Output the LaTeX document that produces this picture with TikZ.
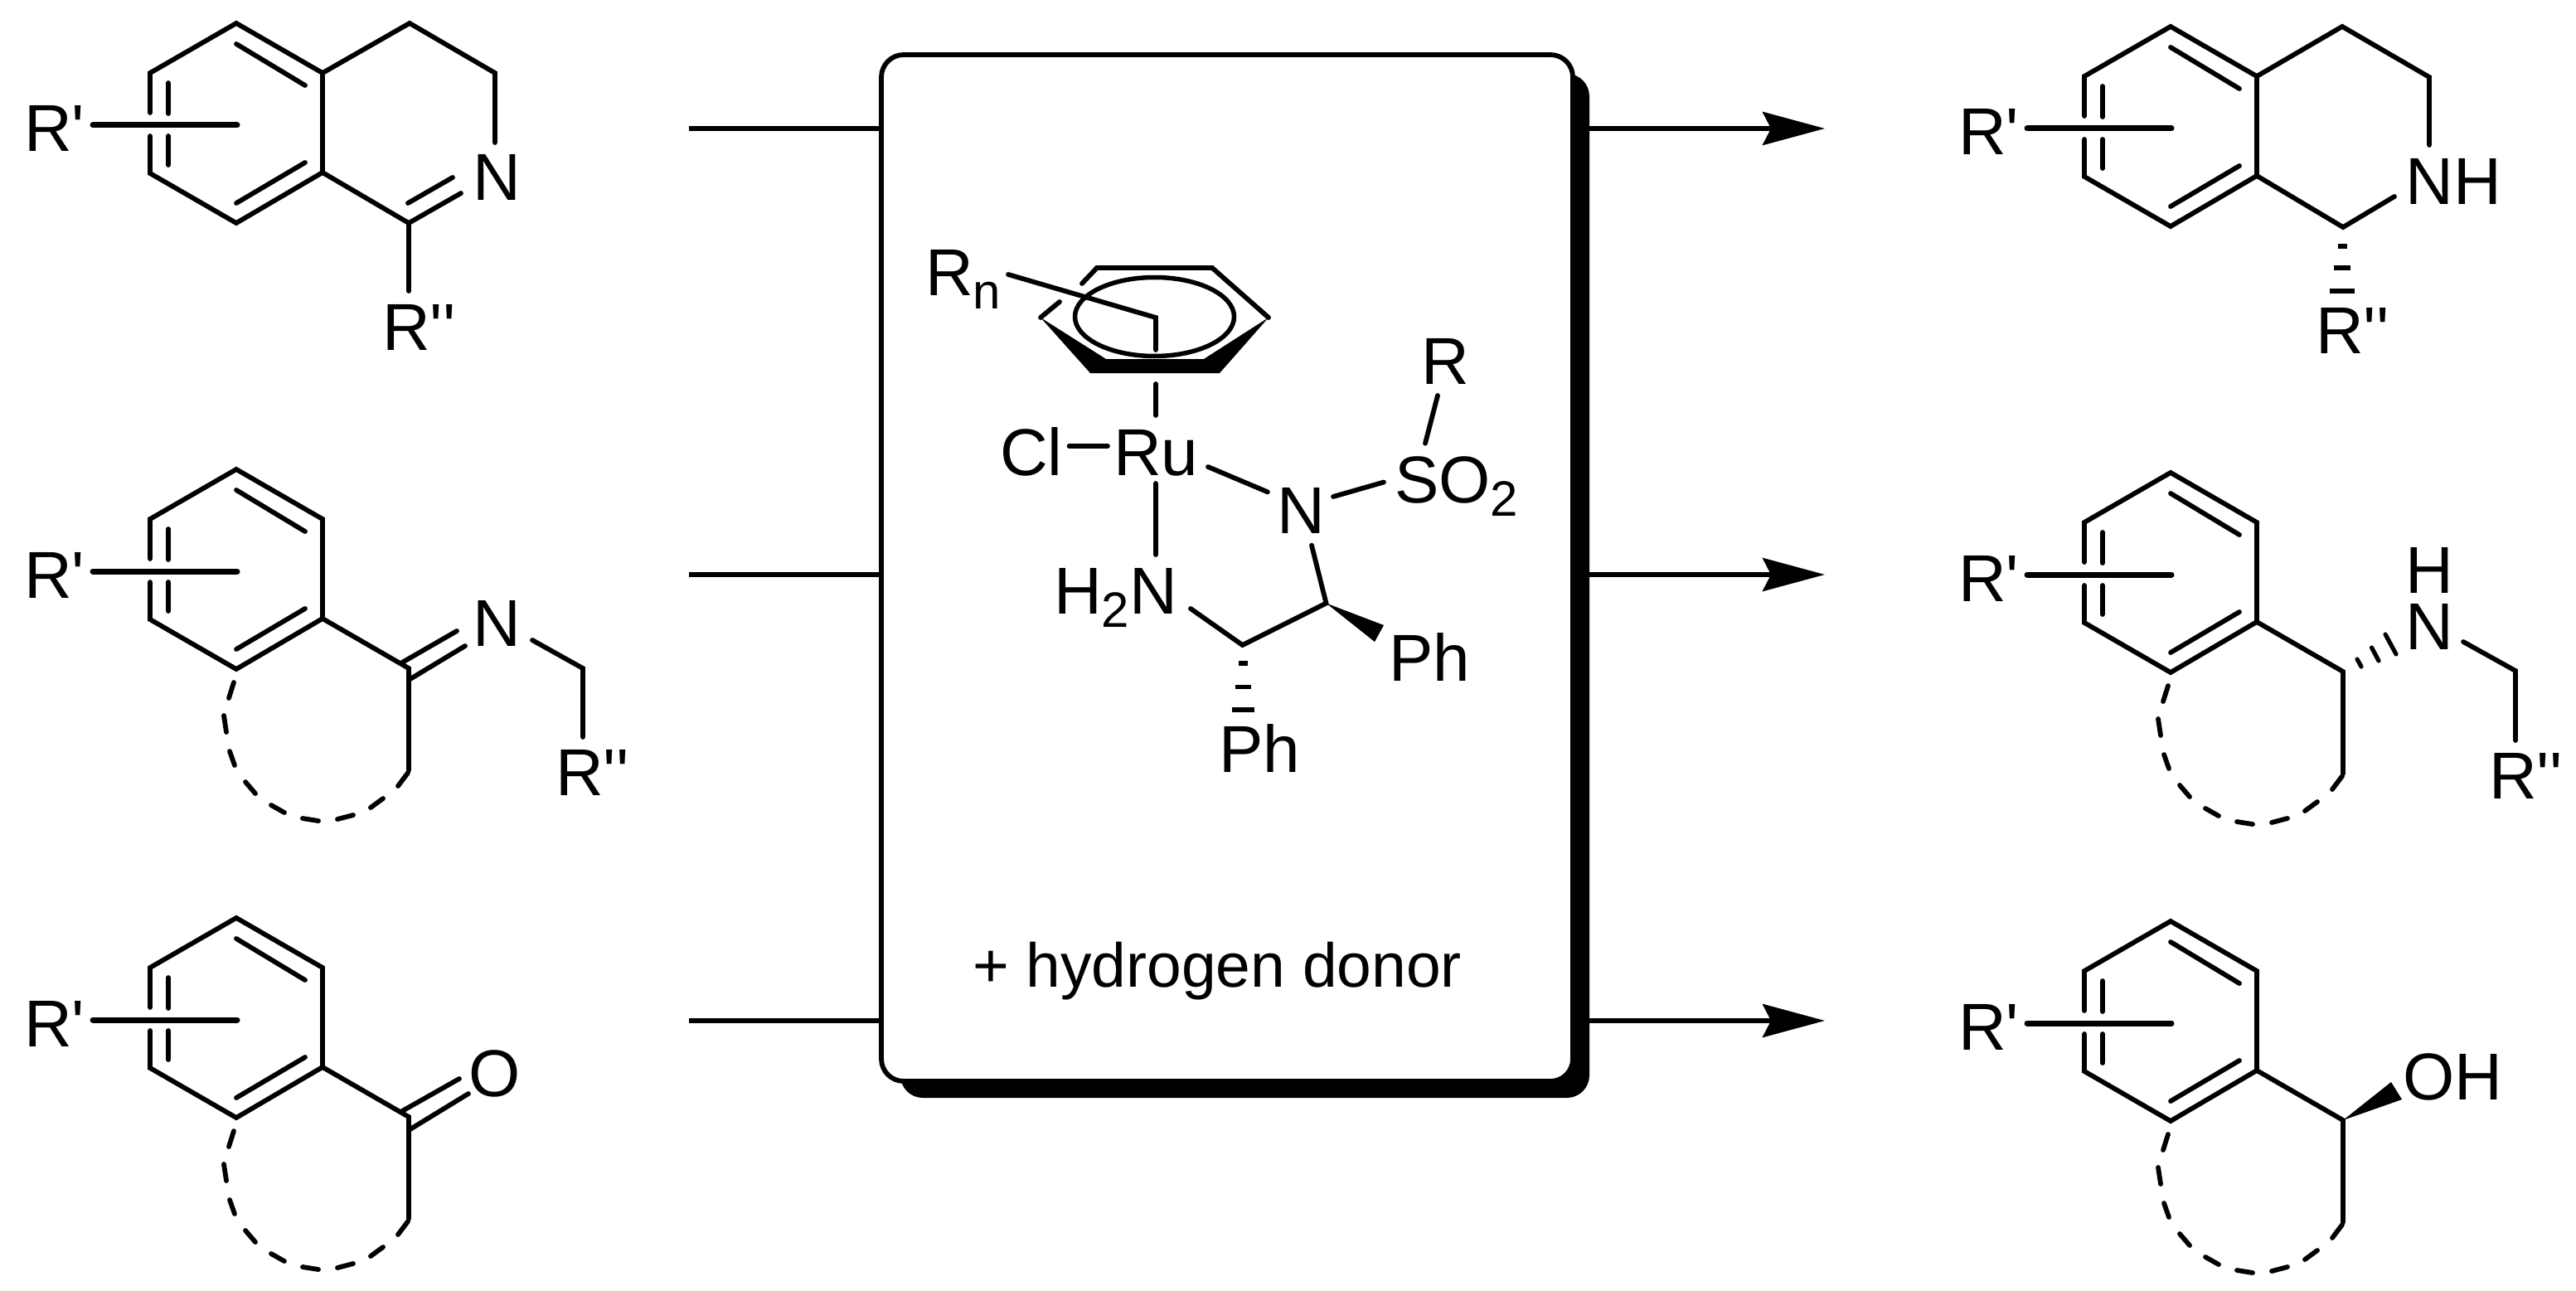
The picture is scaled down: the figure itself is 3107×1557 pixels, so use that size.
\documentclass[tikz,border=0pt]{standalone}
\usepackage{fontspec}
\usetikzlibrary{arrows.meta}
\newfontfamily\chemf{Liberation Sans}
\tikzset{
  bond/.style={line width=5.8pt,line cap=round,line join=miter,miter limit=10},
  thickbar/.style={line width=7pt,line cap=round},
  hashbar/.style={line width=5.3pt,line cap=butt},
  hashslant/.style={line width=5.2pt,line cap=round},
  atom/.style={inner sep=0pt,outer sep=0pt,anchor=base west,font=\chemf\fontsize{80}{96}\selectfont},
  note/.style={inner sep=0pt,outer sep=0pt,anchor=base west,font=\chemf\fontsize{75}{90}\selectfont},
  catbox/.style={draw=black,fill=white,line width=5.8pt,rounded corners=27pt,inner sep=0pt,outer sep=0pt,minimum width=834pt,minimum height=1238pt},
  catshadow/.style={fill=black,rounded corners=27pt,inner sep=0pt,outer sep=0pt,minimum width=831pt,minimum height=1235pt},
  feed/.style={line width=5.6pt},
  yield/.style={line width=5.6pt,-{Stealth[length=75pt,width=40pt,inset=10pt]}},
}
\newcommand\subs[1]{\raisebox{-16pt}{\fontsize{60}{60}\selectfont #1}}
% substituted benzene ring with R' bar, in the frame of the top-left molecule
\newcommand\arene[3]{%
  \begin{scope}[shift={(#2,#3)}]
    \coordinate (#1t) at (285,28);
    \coordinate (#1ul) at (181,88);
    \coordinate (#1ll) at (181,209);
    \coordinate (#1b) at (285,269);
    \coordinate (#1lr) at (389,208);
    \coordinate (#1ur) at (389,88);
    \draw[bond] (181,136) -- (#1ul) -- (#1t) -- (#1ur) -- (#1lr) -- (#1b) -- (#1ll) -- (181,164);
    \draw[bond] (203,100) -- (203,137);
    \draw[bond] (203,164) -- (203,199);
    \draw[bond] (285,53) -- (368,103);
    \draw[bond] (368,196) -- (285,245);
    \draw[thickbar] (112,151) -- (286,151);
    \node[atom] (#1rp) at (29,183) {R'};
  \end{scope}}
% benzene ring plus the dashed carbocycle
\newcommand\fused[3]{%
  \arene{#1}{#2}{#3}
  \begin{scope}[shift={(#2,#3)}]
    \coordinate (#1c) at (493,268);
    \draw[bond] (#1lr) -- (#1c) -- (493,391);
    \draw[bond] (282,285) -- (276,304);
    \draw[bond] (270,325) -- (273,345);
    \draw[bond] (277,368) -- (283,385);
    \draw[bond] (296,405) -- (308,419);
    \draw[bond] (327,433) -- (343,442);
    \draw[bond] (365,449) -- (384,452);
    \draw[bond] (407,450) -- (426,445);
    \draw[bond] (447,436) -- (462,425);
    \draw[bond] (480,410) -- (492,394);
  \end{scope}}
\begin{document}
\begin{tikzpicture}[x=1pt,y=-1pt]
\useasboundingbox (0,0) rectangle (3107,1557);

% central box
\node[catshadow] (shadow) at (1501.5,706.5) {};
\node[catbox] (box) at (1480,685) {};

% connectors
\coordinate (in1) at (831,155);
\coordinate (in2) at (831,693);
\coordinate (in3) at (831,1231);
\coordinate (out1) at (2201,155);
\coordinate (out2) at (2201,693);
\coordinate (out3) at (2201,1231);
\foreach \i in {1,2,3}{
  \draw[feed] (in\i) -- (in\i -| box.west);
  \draw[yield] (out\i -| box.east) -- (out\i);
}

% ---------- left column ----------
\arene{a}{0}{0}
\coordinate (a2) at (494,28);
\coordinate (a3) at (597,88);
\coordinate (a5) at (493,269);
\node[atom] (an) at (570,241) {N};
\node[atom] (ar) at (461,422) {R''};
\draw[bond] (aur) -- (a2) -- (a3) -- (597,172);
\draw[bond] (alr) -- (a5) -- (556,233);
\draw[bond] (546,214) -- (492,245);
\draw[bond] (a5) -- (493,351);

\fused{b}{0}{538}
\node[atom] (bn) at (570,779) {N};
\node[atom] (br) at (670,959) {R''};
\coordinate (bch) at (703,806);
\draw[bond] (493,820) -- (561,779);
\draw[bond] (485,799) -- (551,761);
\draw[bond] (642,772) -- (bch) -- (703,889);

\fused{c}{0}{1079}
\node[atom] (co) at (565,1322) {O};
\draw[bond] (493,1363) -- (565,1319);
\draw[bond] (485,1340) -- (554,1301);

% ---------- right column ----------
\arene{d}{2333}{4}
\coordinate (d2) at (2825,32);
\coordinate (d3) at (2930,93);
\coordinate (d5) at (2826,274);
\node[atom] (dn) at (2901.5,246) {NH};
\node[atom] (dr) at (2793,426) {R''};
\draw[bond] (dur) -- (d2) -- (d3) -- (2930,175);
\draw[bond] (dlr) -- (d5) -- (2888,237);
\draw[hashbar] (2819.5,297) -- (2830.5,297);
\draw[hashbar] (2815,323) -- (2835,323);
\draw[hashbar] (2810,351) -- (2840,351);

\fused{e}{2333}{542}
\node[atom] (eh) at (2901,715) {H};
\node[atom] (en) at (2901,783) {N};
\node[atom] (er) at (3002,963) {R''};
\coordinate (ech) at (3034,809);
\draw[bond] (2971,774) -- (ech) -- (3034,893);
\draw[hashslant] (2843,795) -- (2848,804);
\draw[hashslant] (2860.5,781) -- (2869,797);
\draw[hashslant] (2877,765) -- (2890,789);

\fused{f}{2333}{1083}
\node[atom] (fo) at (2898,1326) {OH};
\fill[black] (fc) -- (2884,1305) -- (2897,1326) -- cycle;

% ---------- ruthenium complex ----------
\node[atom] (rn) at (1116,356.5) {R\subs{n}};
\node[atom] (cl) at (1206,573) {Cl};
\node[atom] (ru) at (1343,573) {Ru};
\node[atom] (n1) at (1540,643.5) {N};
\node[atom] (so) at (1682,606) {SO\subs{2}};
\node[atom] (rr) at (1714,463.5) {R};
\node[atom] (nh) at (1271,740) {H\subs{2}N};
\node[atom] (p1) at (1675,821.6) {Ph};
\node[atom] (p2) at (1470,931) {Ph};
\node[note] (don) at (1173,1190) {+ hydrogen donor};

% arene
\coordinate (z1) at (1323,323);
\coordinate (z2) at (1462,323);
\coordinate (z3) at (1530,383);
\coordinate (z4) at (1471,450);
\coordinate (z5) at (1315,450);
\coordinate (z6) at (1255,383);
\draw[bond] (1305,342) -- (z1) -- (z2) -- (z3);
\draw[bond] (1278,364) -- (z6);
\fill[black] (z6) -- (z5) -- (z4) -- (z3) -- (1452,433) -- (1334,433) -- cycle;
\draw[line width=5.5pt] (1392.5,382) ellipse [x radius=96,y radius=47.5];
\coordinate (zm) at (1394,383);
\draw[bond] (1216,331) -- (zm) -- (1394,422);
\draw[bond] (1394,463) -- (1394,501);

% ligands
\coordinate (c1) at (1498.6,778);
\coordinate (c2) at (1599.5,727.5);
\draw[bond] (1289.6,538) -- (1336,538);
\draw[bond] (1394,583) -- (1394,669);
\draw[bond] (1457,563) -- (1529,593.4);
\draw[bond] (1608,599) -- (1669,581.5);
\draw[bond] (1719,534.7) -- (1734,477);
\draw[bond] (1436,734) -- (c1) -- (c2) -- (1582,657.7);
\fill[black] (c2) -- (1669,754) -- (1658,774) -- cycle;
\draw[hashbar] (1493.5,800) -- (1504.5,800);
\draw[hashbar] (1489.5,828.5) -- (1508.5,828.5);
\draw[hashbar] (1485.5,856) -- (1512.5,856);
\end{tikzpicture}
\end{document}
